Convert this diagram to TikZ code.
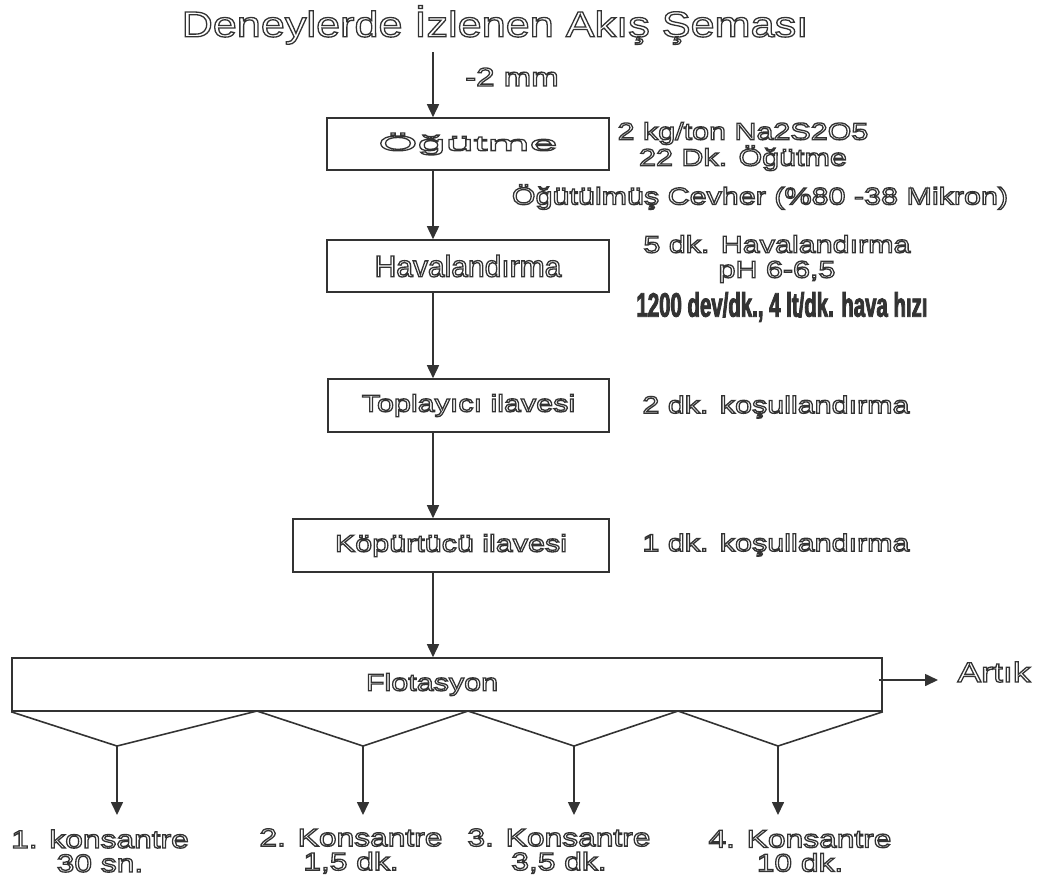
\documentclass[tikz,border=0pt]{standalone}
\usepackage{fontspec}
\usepackage{xcolor}
\usetikzlibrary{arrows.meta,positioning}
\setmainfont{Liberation Sans}
\newfontfamily\widefont[FakeStretch=1.27]{Liberation Sans}
\newfontfamily\xwidefont[FakeStretch=2.4]{Liberation Sans}
\newfontfamily\titlefont[FakeStretch=1.2]{Liberation Sans}
\newfontfamily\narrowfont[FakeStretch=0.6]{Liberation Sans}
\definecolor{dline}{HTML}{333333}
\newcommand{\olt}[1]{\special{pdf:literal direct 1 Tr 1.3 w}#1\special{pdf:literal direct 0 Tr}}
\newcommand{\heavy}[1]{\special{pdf:literal direct 2 Tr 0.8 w}#1\special{pdf:literal direct 0 Tr}}
\newcommand{\wide}{\widefont\fontsize{24}{25}\selectfont}

\begin{document}
\begin{tikzpicture}[x=1pt,y=-1pt,->,>={Triangle[length=13pt,width=12pt]},line width=1.6pt,color=dline]
    \tikzstyle{box}=[draw,fill=white,minimum height=53pt,inner sep=0pt]
    \tikzstyle{olt}=[inner sep=0pt]
    \useasboundingbox (0,0) rectangle (1054,879);

    \node[olt,font=\titlefont\fontsize{36}{38}\selectfont] (title) at (495,25) {\olt{Deneylerde İzlenen Akış Şeması}};
    \coordinate (ax) at (433,52);

    \node[box,minimum width=282pt,minimum height=52pt,font=\xwidefont\fontsize{21}{22}\selectfont] (ogut) at (468,144) {\olt{Öğütme}};
    \node[box,minimum width=282pt,minimum height=52pt,font=\fontsize{30}{32}\selectfont] (hava) at (468,266) {\olt{Havalandırma}};
    \node[box,minimum width=281pt,font=\wide] (topl) at (468.5,405.5) {\olt{Toplayıcı ilavesi}};
    \node[box,minimum width=316pt,font=\wide] (kopu) at (451,545.5) {\olt{Köpürtücü ilavesi}};
    \node[box,minimum width=870pt,label={[olt,xshift=-15pt,font=\wide]center:\olt{Flotasyon}}] (flot) at (447,684.5) {};

    \node[olt,font=\widefont\fontsize{26}{28}\selectfont] (mm) at (512,77) {\olt{-2 mm}};
    \node[olt,font=\wide,align=center] (na) at (743,146.5) {\olt{2 kg/ton Na2S2O5}\\\olt{22 Dk. Öğütme}};
    \node[olt,font=\wide] (cevher) at (760,197) {\olt{Öğütülmüş Cevher (\%80 -38 Mikron)}};
    \node[olt,font=\wide,align=center] (havtxt) at (777,259) {\olt{5 dk. Havalandırma}\\\olt{pH 6-6,5}};
    \node[inner sep=0pt,font=\narrowfont\bfseries\fontsize{34}{36}\selectfont] (dev) at (782,307) {\heavy{1200 dev/dk., 4 lt/dk. hava hızı}};
    \node[olt,font=\wide] (kos2) at (776,407) {\olt{2 dk. koşullandırma}};
    \node[olt,font=\wide] (kos1) at (776,545) {\olt{1 dk. koşullandırma}};
    \node[olt,font=\widefont\fontsize{28}{30}\selectfont] (artik) at (994,672) {\olt{Artık}};

    \node[olt,font=\widefont\fontsize{25}{24}\selectfont,align=center] (k1) at (100,851) {\olt{1. konsantre}\\\olt{30 sn.}};
    \node[olt,font=\widefont\fontsize{25}{24}\selectfont,align=center] (k2) at (351,851) {\olt{2. Konsantre}\\\olt{1,5 dk.}};
    \node[olt,font=\widefont\fontsize{25}{24}\selectfont,align=center] (k3) at (559,851) {\olt{3. Konsantre}\\\olt{3,5 dk.}};
    \node[olt,font=\widefont\fontsize{25}{24}\selectfont,align=center] (k4) at (800,851) {\olt{4. Konsantre}\\\olt{10 dk.}};

    % main line
    \draw (ax) -- (ogut.north -| ax);
    \draw (ogut.south -| ax) -- (hava.north -| ax);
    \draw (hava.south -| ax) -- (topl.north -| ax);
    \draw (topl.south -| ax) -- (kopu.north -| ax);
    \draw (kopu.south -| ax) -- (flot.north -| ax);
    \coordinate (out) at (938,680);
    \draw (flot.east |- out) ++(-4,0) -- (out);

    % hopper
    \coordinate (v1) at (117,746);
    \coordinate (v2) at (363,746);
    \coordinate (v3) at (574,746);
    \coordinate (v4) at (778,746);
    \draw[-] (flot.south west) -- (v1) -- (257,711) -- (v2) -- (468,711) -- (v3) -- (678,711) -- (v4) -- (flot.south east);
    \foreach \v in {v1,v2,v3,v4}
        \draw (\v) -- ++(0,69);
\end{tikzpicture}
\end{document}
